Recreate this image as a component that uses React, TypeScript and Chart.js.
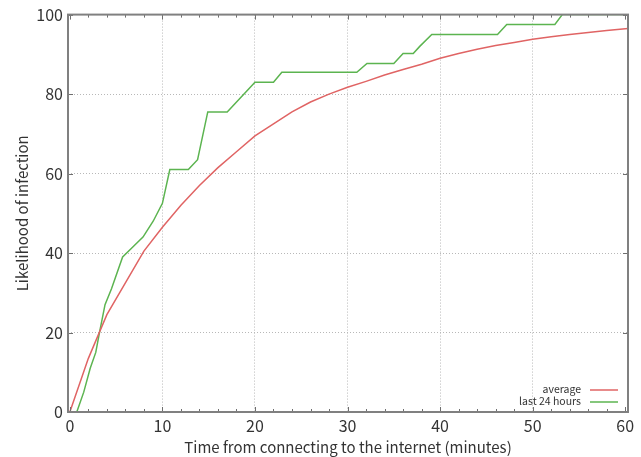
import React, { useEffect, useRef } from "react";
import { Chart, registerables } from "chart.js";

Chart.register(...registerables);

// ---- data ----
const seriesLabels = ["average", "last 24 hours"];
const seriesColors = ["#e06464", "#5cb450"];

const averageMinutes = [0, 2, 4, 6, 8, 10, 12, 14, 16, 18, 20, 22, 24, 26, 28, 30, 32, 34, 36, 38, 40, 42, 44, 46, 48, 50, 52, 54, 56, 58, 60.3];
const averageValues = [0, 13.5, 24.5, 32.5, 40.5, 46.5, 52, 57, 61.5, 65.5, 69.5, 72.5, 75.5, 78, 80, 81.7, 83.2, 84.8, 86.2, 87.5, 89, 90.2, 91.3, 92.2, 93, 93.8, 94.4, 95, 95.5, 96, 96.5];

const last24Minutes = [0.75, 1.5, 2.2, 2.8, 3.2, 3.8, 4.5, 5.7, 6.8, 7.9, 9, 10, 10.8, 12.8, 13.8, 14.9, 17, 20, 22, 22.9, 31, 32.1, 35, 36, 37.1, 37.8, 39.1, 46.2, 47.2, 52.4, 53.2, 60.3];
const last24Values = [0, 5, 11, 15, 20, 27, 31, 39, 41.5, 44, 48, 52.5, 61, 61, 63.5, 75.5, 75.5, 83, 83, 85.5, 85.5, 87.7, 87.7, 90.2, 90.2, 92, 95, 95, 97.5, 97.5, 100, 100];

const xTickValues = [0, 10, 20, 30, 40, 50, 60];
const yTickValues = [0, 20, 40, 60, 80, 100];
const xMinorStep = 2;

const xTitle = "Time from connecting to the internet (minutes)";
const yTitle = "Likelihood of infection";

const FONT = '"Noto Sans CJK JP", "Noto Sans", sans-serif';

const framePlugin = {
  id: "frameAndLegend",
  afterDatasetsDraw(chart: any) {
    const { ctx, chartArea: a, scales } = chart;
    const xs = scales.x;
    const ys = scales.y;
    ctx.save();
    // inward ticks
    ctx.strokeStyle = "#6e6e6e";
    ctx.lineWidth = 1;
    const xMin = xTickValues[0];
    const xMax = xTickValues[xTickValues.length - 1];
    for (let v = xMin; v <= xMax; v += xMinorStep) {
      const px = Math.round(xs.getPixelForValue(v)) + 0.5;
      const len = xTickValues.includes(v) ? 5 : 3;
      ctx.beginPath();
      ctx.moveTo(px, a.bottom);
      ctx.lineTo(px, a.bottom - len);
      ctx.moveTo(px, a.top);
      ctx.lineTo(px, a.top + len);
      ctx.stroke();
    }
    for (const v of yTickValues) {
      const py = Math.round(ys.getPixelForValue(v)) + 0.5;
      ctx.beginPath();
      ctx.moveTo(a.left, py);
      ctx.lineTo(a.left + 5, py);
      ctx.moveTo(a.right, py);
      ctx.lineTo(a.right - 5, py);
      ctx.stroke();
    }
    // frame
    ctx.strokeStyle = "#808080";
    ctx.lineWidth = 2;
    ctx.strokeRect(a.left, a.top, a.right - a.left, a.bottom - a.top);

    // legend
    ctx.font = `10.5px ${FONT}`;
    ctx.fillStyle = "#333333";
    ctx.textAlign = "right";
    ctx.textBaseline = "middle";
    seriesLabels.forEach((label, i) => {
      const y = a.bottom - 23 + i * 12;
      ctx.fillText(label, a.right - 47, y);
      ctx.strokeStyle = seriesColors[i];
      ctx.lineWidth = 1.5;
      ctx.beginPath();
      ctx.moveTo(a.right - 38, y + 1);
      ctx.lineTo(a.right - 10, y + 1);
      ctx.stroke();
    });
    ctx.restore();
  },
};

export default function App() {
  const canvasRef = useRef<HTMLCanvasElement | null>(null);

  useEffect(() => {
    if (!canvasRef.current) return;
    const chart = new Chart(canvasRef.current, {
      type: "line",
      data: {
        datasets: [
          {
            label: seriesLabels[0],
            data: averageMinutes.map((x, i) => ({ x, y: averageValues[i] })),
            borderColor: seriesColors[0],
            borderWidth: 1.5,
            pointRadius: 0,
            tension: 0,
            fill: false,
          },
          {
            label: seriesLabels[1],
            data: last24Minutes.map((x, i) => ({ x, y: last24Values[i] })),
            borderColor: seriesColors[1],
            borderWidth: 1.5,
            pointRadius: 0,
            tension: 0,
            fill: false,
          },
        ],
      },
      options: {
        animation: false,
        responsive: false,
        layout: { padding: { top: 13, right: 13, left: 0, bottom: 0 } },
        plugins: {
          legend: { display: false },
          tooltip: { enabled: false },
        },
        scales: {
          x: {
            type: "linear",
            min: -0.2,
            max: 60.3,
            afterFit: (s: any) => {
              s.height = 45;
            },
            afterBuildTicks: (s: any) => {
              s.ticks = xTickValues.map((v) => ({ value: v }));
            },
            ticks: {
              includeBounds: false,
              stepSize: 10,
              padding: 4,
              color: "#333333",
              font: { family: FONT, size: 16 },
              maxRotation: 0,
            },
            grid: {
              drawTicks: false,
              color: (c: any) =>
                c.tick && (c.tick.value === xTickValues[0] || c.tick.value === xTickValues[xTickValues.length - 1])
                  ? "rgba(0,0,0,0)"
                  : "#b8b8b8",
              lineWidth: 1,
            },
            border: { display: false, dash: [1, 2] },
            title: {
              display: true,
              text: xTitle,
              color: "#333333",
              font: { family: FONT, size: 15 },
              padding: { top: 0, bottom: 1 },
            },
          },
          y: {
            type: "linear",
            min: 0,
            max: 100,
            afterFit: (s: any) => {
              s.width = 68;
            },
            afterBuildTicks: (s: any) => {
              s.ticks = yTickValues.map((v) => ({ value: v }));
            },
            ticks: {
              stepSize: 20,
              padding: 5,
              color: "#333333",
              font: { family: FONT, size: 16 },
            },
            grid: {
              drawTicks: false,
              color: (c: any) =>
                c.tick && (c.tick.value === yTickValues[0] || c.tick.value === yTickValues[yTickValues.length - 1])
                  ? "rgba(0,0,0,0)"
                  : "#b8b8b8",
              lineWidth: 1,
            },
            border: { display: false, dash: [1, 2] },
            title: {
              display: true,
              text: yTitle,
              color: "#333333",
              font: { family: FONT, size: 15 },
              padding: { top: 13, bottom: 0 },
            },
          },
        },
      },
      plugins: [framePlugin],
    } as any);
    return () => chart.destroy();
  }, []);

  return (
    <div style={{ position: "fixed", left: 0, top: 0, width: 641, height: 457, background: "#ffffff" }}>
      <canvas ref={canvasRef} width={641} height={457} style={{ display: "block" }} />
    </div>
  );
}
